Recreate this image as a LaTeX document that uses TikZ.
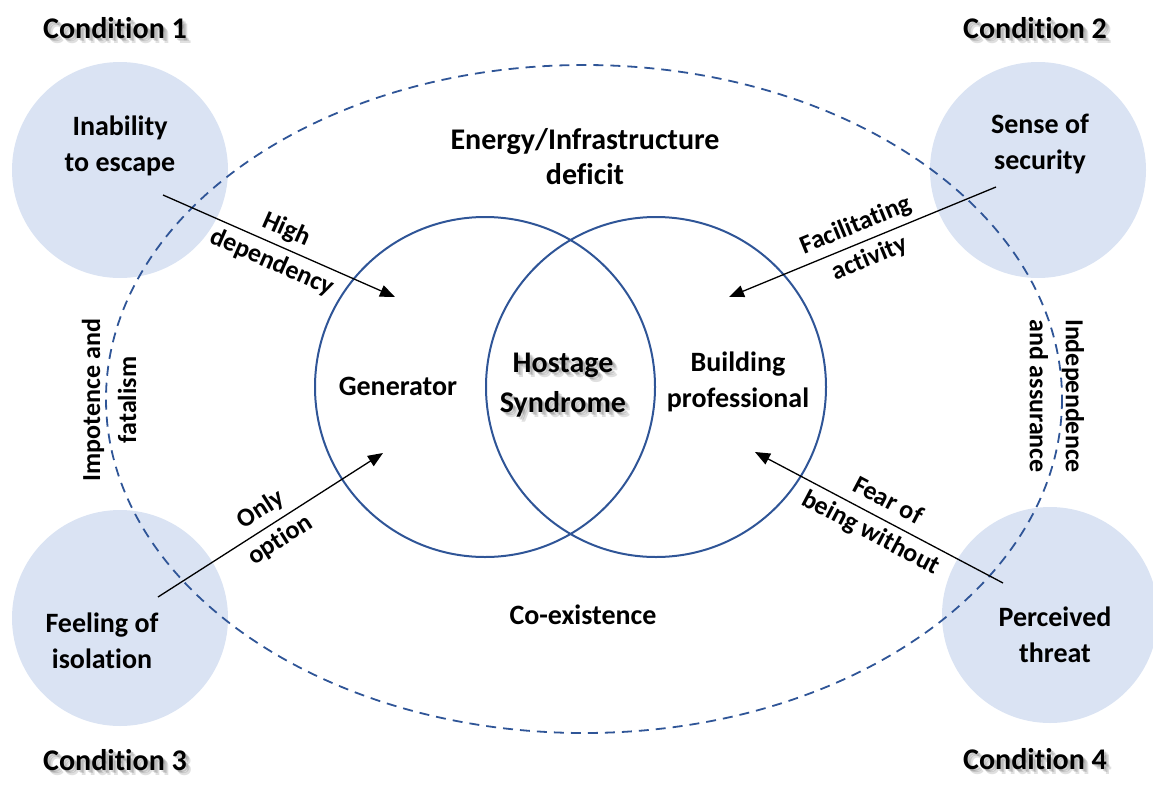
\documentclass[tikz,border=0pt]{standalone}
\usepackage{fontspec}
\setmainfont{Carlito}[Ligatures=NoCommon]
\usepackage{xcolor}
\usepackage{tikz}
\usetikzlibrary{arrows.meta}

\definecolor{ringblue}{RGB}{47,85,151}
\definecolor{paleblue}{RGB}{218,227,243}

% soft grey copies behind a label, stepped down and to the right
\newcommand{\softshade}[3]{%
  \foreach \d in {2,3.5,5}
    \node[#2,text=black,opacity=0.12,xshift=\d pt,yshift=-\d pt] at (#1) {#3};}

\begin{document}
\begin{tikzpicture}[x=1pt,y=-1pt,>={Triangle[length=15pt,width=12pt]},
    every node/.style={font=\bfseries\fontsize{28}{36.5}\selectfont,align=center},
    cond/.style={font=\bfseries\fontsize{30}{36}\selectfont},
    hostage/.style={font=\bfseries\fontsize{30}{40}\selectfont},
    edgetext/.style={font=\bfseries\fontsize{26}{36}\selectfont},
    disc/.style={circle,fill=paleblue,minimum size=216pt,inner sep=0pt},
    venn/.style={circle,draw=ringblue,line width=2pt,minimum size=340pt,inner sep=0pt},
    link/.style={->,line width=1.3pt}]
  \useasboundingbox (0,0) rectangle (1153,787);

  % the four conditions
  \node[disc] (escape)    at (120,170)  {};
  \node[disc] (security)  at (1038,170) {};
  \node[disc] (isolation) at (120,618)  {};
  \node[disc] (threat)    at (1050,615) {};

  \draw[ringblue,line width=1.8pt,dash pattern=on 10pt off 7pt]
    (584,399) ellipse (478 and 334);

  % generator / builder overlap
  \node[venn] (gen)   at (485,387) {};
  \node[venn] (build) at (656,387) {};

  \node (generator) at (398,386) {Generator};
  \softshade{563,385}{hostage}{Hostage\\Syndrome}
  \node[hostage] (syndrome) at (563,385) {Hostage\\Syndrome};
  \node (builder) at (738,382) {Building\\professional};
  \node[font=\bfseries\fontsize{30}{35}\selectfont] (deficit) at (585,157)
    {Energy/Infrastructure\\deficit};
  \node (coexist) at (583,615) {Co-existence};

  \node (escapetext)    at (120,146)  {Inability\\to escape};
  \node (securitytext)  at (1040,144) {Sense of\\security};
  \node (isolationtext) at (102,641)  {Feeling of\\isolation};
  \node (threattext)    at (1055,635) {Perceived\\threat};

  \foreach \n/\pos in {1/{115,28},2/{1035,28},3/{115,760},4/{1035,759}}{
    \softshade{\pos}{cond}{Condition \n}
    \node[cond] (cond\n) at (\pos) {Condition \n};
  }

  % arrows into the circles
  \coordinate (hd1) at (163,195);  \coordinate (hd2) at (395,297);
  \coordinate (fa1) at (996,187);  \coordinate (fa2) at (729,297);
  \coordinate (oo1) at (158,597);  \coordinate (oo2) at (383,453);
  \coordinate (fb1) at (1003,583); \coordinate (fb2) at (755,452);

  \draw[link] (hd1) -- node[sloped,edgetext] (hdtext) {High\\dependency} (hd2);
  \draw[link] (fa1) -- node[sloped,edgetext] (fatext) {Facilitating\\activity} (fa2);
  \draw[link] (oo1) -- node[sloped,edgetext] (ootext) {Only\\option} (oo2);
  \draw[link] (fb1) -- node[sloped,edgetext] (fbtext) {Fear of\\being without} (fb2);

  \node[edgetext,rotate=90]  (fatalism)  at (109,400)  {Impotence and\\fatalism};
  \node[edgetext,rotate=-90] (assurance) at (1057,396) {Independence\\and assurance};
\end{tikzpicture}
\end{document}
